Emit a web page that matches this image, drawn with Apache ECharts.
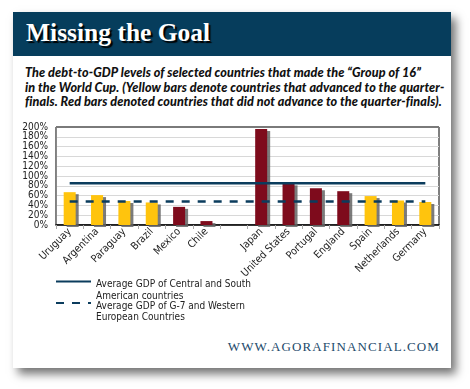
<!DOCTYPE html>
<html><head><meta charset="utf-8">
<script src="https://cdn.jsdelivr.net/npm/echarts@6/dist/echarts.min.js"></script>
<style>
html,body{margin:0;padding:0;background:#fff;width:470px;height:389px;overflow:hidden;}
#card{position:absolute;left:13px;top:12px;width:438px;height:356px;background:#fff;box-shadow:5px 6px 9px rgba(0,0,0,0.55);}
#bar{position:absolute;left:0;top:0;width:438px;height:44px;background:#063d5c;}
#title{position:absolute;left:13px;top:6px;font-family:"Liberation Serif","DejaVu Serif",serif;font-weight:bold;font-size:25.5px;color:#fff;text-shadow:2px 2px 1px #000;white-space:nowrap;}
#sub{position:absolute;left:12px;top:54px;font-family:Lato,"Open Sans",sans-serif;font-weight:900;font-style:italic;font-size:12.6px;line-height:14.6px;color:#111;white-space:nowrap;letter-spacing:0.1px;}
#foot{position:absolute;right:11px;top:327px;font-family:"Liberation Serif","DejaVu Serif",serif;font-size:13px;color:#1d4a6b;letter-spacing:1.1px;white-space:nowrap;}
#chart{position:absolute;left:0;top:0;width:470px;height:389px;}
</style></head>
<body>
<div id="card">
  <div id="bar"><div id="title">Missing the Goal</div></div>
  <div id="sub">The debt-to-GDP levels of selected countries that made the “Group of 16”<br>in the World Cup. (Yellow bars denote countries that advanced to the quarter-<br>finals. Red bars denoted countries that did not advance to the quarter-finals).</div>
  <div id="foot">WWW.AGORAFINANCIAL.COM</div>
</div>
<div id="chart"></div>
<script>
const categories = ["Uruguay","Argentina","Paraguay","Brazil","Mexico","Chile","","Japan","United States","Portugal","England","Spain","Netherlands","Germany"];
const debtToGdp = [67, 61, 49, 46, 37, 8, null, 196, 85, 75, 69, 59, 50, 47];
const advanced = [true, true, true, true, false, false, null, false, false, false, false, true, true, true];
const avgCentralSouth = 85;
const avgG7Western = 48;
const yTicks = [0, 20, 40, 60, 80, 100, 120, 140, 160, 180, 200];
const yEndTicks = [yTicks[0], yTicks[yTicks.length-1]];

const YELLOW = "#ffc40d", RED = "#7e0b1c", NAVY = "#0b3c5d";
const lineName1 = "Average GDP of Central and South American countries";
const lineName2 = "Average GDP of G-7 and Western European Countries";
const legendLines = {};
legendLines[lineName1] = ["Average GDP of Central and South", "American countries"];
legendLines[lineName2] = ["Average GDP of G-7 and Western", "European Countries"];
const axisFont = '"DejaVu Sans Condensed","DejaVu Sans",sans-serif';

function legendCfg(name, top){
  return {orient:'vertical', left:55, top:top, padding:0, itemWidth:35, itemHeight:4, itemGap:0,
    data:[name], itemStyle:{opacity:0},
    formatter: n => '{s| }\n' + legendLines[n].map(l => '{t|' + l + '}').join('\n'),
    textStyle:{fontFamily:axisFont, fontSize:10, color:'#222',
      rich:{s:{height:18, fontSize:10, lineHeight:18}, t:{fontFamily:axisFont, fontSize:10, color:'#222', lineHeight:11.5, height:11.5}}}};
}
const yLabelStyle = {formatter:v=>v+'%', fontFamily:axisFont, fontSize:10, color:'#222', margin:8};

const chart = echarts.init(document.getElementById('chart'), null, {renderer:'canvas'});
chart.setOption({
  animation:false,
  grid:{left:56, top:127, width:383, height:98, show:true, borderColor:'#000', borderWidth:1, backgroundColor:'transparent'},
  xAxis:{type:'category', data:categories, boundaryGap:true,
    axisLine:{lineStyle:{color:'#000', width:1.5}},
    axisTick:{show:true, length:4, lineStyle:{color:'#aaa'}},
    axisLabel:{interval:0, rotate:45, fontFamily:axisFont, fontSize:10.5, color:'#222', margin:5}},
  yAxis:[
    {type:'value', min:yTicks[0], max:yTicks[yTicks.length-1], interval:20, position:'left',
      axisLine:{show:true, lineStyle:{color:'#888', width:1}},
      axisTick:{show:false},
      splitLine:{lineStyle:{color:'#d8d8d8', width:1}},
      axisLabel:Object.assign({}, yLabelStyle)},
    {type:'value', min:yTicks[0], max:yTicks[yTicks.length-1], interval:200, position:'left', offset:0,
      axisLine:{show:false}, axisTick:{show:false}, splitLine:{show:false},
      axisLabel:Object.assign({showMinLabel:true, showMaxLabel:true}, yLabelStyle)}
  ],
  legend:[legendCfg(lineName1, 261), legendCfg(lineName2, 282.5)],
  graphic:[{type:'line', shape:{x1:56,y1:127,x2:439,y2:127}, style:{stroke:'#7a7a7a', lineWidth:2}, z:10}],
  series:[
    {type:'bar', name:'Debt to GDP', barWidth:12, yAxisIndex:0,
      data: debtToGdp.map((v,i)=>({value:v, itemStyle:{color: advanced[i] ? YELLOW : RED}})),
      itemStyle:{shadowColor:'rgba(100,100,100,0.85)', shadowOffsetX:3, shadowOffsetY:2, shadowBlur:0}},
    {type:'line', name:lineName1, data:categories.map(()=>avgCentralSouth), symbol:'none', yAxisIndex:0,
      lineStyle:{color:NAVY, width:2.5}, itemStyle:{color:NAVY}, z:5},
    {type:'line', name:lineName2, data:categories.map(()=>avgG7Western), symbol:'none', yAxisIndex:0,
      lineStyle:{color:NAVY, width:2.5, type:[8,8]}, itemStyle:{color:NAVY}, z:5}
  ]
});
</script>
</body></html>
